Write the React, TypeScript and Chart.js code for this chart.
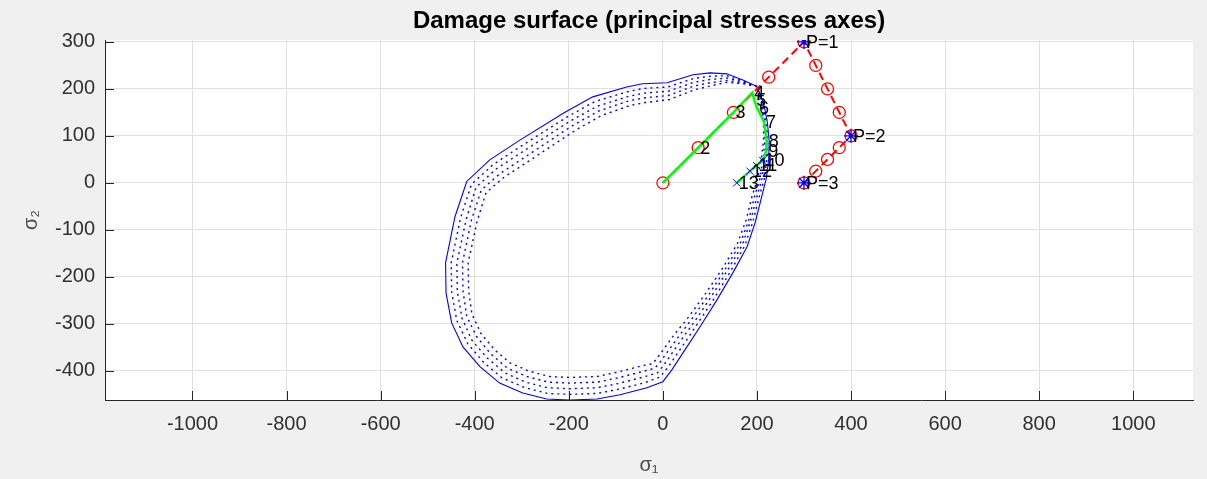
import React, { useEffect, useRef } from 'react';
import { Chart, registerables } from 'chart.js';

Chart.register(...registerables);

const titleText = 'Damage surface (principal stresses axes)';
const xAxisLabel = 'σ₁';
const yAxisLabel = 'σ₂';

const xTicks = [-1000, -800, -600, -400, -200, 0, 200, 400, 600, 800, 1000];
const yTicks = [-400, -300, -200, -100, 0, 100, 200, 300];
const xLimits = [-1186, 1127];
const yLimits = [-462, 304];

// initial damage surface (solid)
const surfaceSolid: number[][] = [
  [200, 205], [170, 219], [136, 232], [100, 234], [64, 230], [9, 213], [-43, 211], [-77, 204],
  [-149, 183], [-210, 149], [-304, 91], [-368, 49], [-417, 3], [-442, -72], [-462, -170],
  [-461, -234], [-449, -298], [-425, -349], [-389, -391], [-347, -426], [-298, -447],
  [-247, -460], [-198, -462], [-140, -460], [-91, -451], [-34, -436], [0, -423], [19, -398],
  [57, -340], [79, -306], [115, -249], [149, -191], [179, -136], [196, -85], [210, -30],
  [220, 10], [225, 50], [226, 90], [222, 130], [214, 170], [200, 205],
];

// evolved damage surfaces (dotted)
const surfaceDotted1: number[][] = [
  [200, 205], [170, 217], [136, 228], [100, 227], [65, 222], [10, 204], [-41, 201], [-75, 194],
  [-145, 173], [-204, 140], [-297, 81], [-361, 39], [-407, -3], [-430, -74], [-450, -170],
  [-449, -233], [-438, -293], [-415, -342], [-381, -382], [-342, -415], [-295, -435],
  [-246, -448], [-198, -450], [-140, -448], [-93, -439], [-38, -425], [-6, -413], [11, -392],
  [50, -335], [72, -302], [109, -246], [144, -188], [174, -134], [191, -84], [205, -29],
  [216, 10], [221, 50], [223, 90], [220, 130], [213, 170], [200, 205],
];
const surfaceDotted2: number[][] = [
  [200, 205], [170, 215], [136, 223], [100, 220], [66, 214], [11, 195], [-40, 191], [-73, 184],
  [-140, 163], [-198, 131], [-291, 71], [-354, 30], [-397, -9], [-418, -77], [-438, -170],
  [-437, -232], [-427, -288], [-406, -335], [-373, -373], [-336, -404], [-292, -424],
  [-245, -436], [-198, -438], [-140, -436], [-95, -427], [-41, -413], [-11, -404], [3, -386],
  [42, -330], [66, -297], [103, -242], [138, -185], [169, -132], [186, -82], [200, -29],
  [211, 10], [217, 50], [220, 90], [218, 129], [212, 170], [200, 205],
];
const surfaceDotted3: number[][] = [
  [200, 205], [170, 213], [136, 218], [100, 213], [66, 206], [12, 186], [-38, 181], [-71, 175],
  [-136, 153], [-192, 122], [-284, 61], [-346, 20], [-386, -15], [-407, -79], [-426, -170],
  [-425, -230], [-417, -284], [-396, -327], [-366, -364], [-331, -394], [-289, -412],
  [-243, -424], [-198, -426], [-140, -424], [-96, -415], [-45, -402], [-17, -394], [-5, -380],
  [35, -325], [59, -293], [97, -239], [133, -183], [164, -130], [182, -81], [195, -28],
  [207, 11], [213, 50], [217, 90], [216, 129], [211, 169], [200, 205],
];
const surfaceDotted4: number[][] = [
  [200, 205], [170, 211], [136, 214], [100, 206], [67, 198], [13, 177], [-37, 171], [-69, 165],
  [-131, 143], [-186, 112], [-278, 51], [-339, 11], [-376, -21], [-395, -82], [-414, -170],
  [-413, -229], [-406, -279], [-387, -320], [-358, -355], [-325, -383], [-286, -400],
  [-242, -412], [-198, -414], [-140, -412], [-98, -403], [-48, -390], [-22, -385], [-13, -374],
  [27, -319], [52, -289], [91, -235], [128, -180], [159, -128], [177, -79], [190, -27],
  [202, 11], [209, 50], [214, 90], [214, 128], [210, 169], [200, 205],
];

// trial stresses (red dashed with circles)
const trialPath: number[][] = [
  [0, 0], [75, 75], [150, 150], [225, 225], [300, 300], [325, 250], [350, 200], [375, 150],
  [400, 100], [375, 75], [350, 50], [325, 25], [300, 0],
];

// actual stress path (green)
const stressPath: number[][] = [
  [0, 0], [75, 75], [150, 150], [190, 192], [194, 177], [200, 160], [215, 130], [221, 88],
  [220, 68], [212, 48], [199, 37], [185, 25], [157, 0],
];
const stressLabels = ['', '2', '3', '4', '5', '6', '7', '8', '9', '10', '11', '12', '13'];

const crossPoints: number[][] = [[212, 48], [199, 37], [185, 25], [157, 0]];

const loadTargets: number[][] = [[300, 300], [400, 100], [300, 0]];
const loadLabels = ['P=1', 'P=2', 'P=3'];

const FONT = "'Liberation Sans', Arial, Helvetica, sans-serif";

const toPts = (arr: number[][]) => arr.map(([x, y]) => ({ x, y }));

const framePlugin = {
  id: 'frame',
  beforeDraw(chart: any) {
    const { ctx, chartArea: a } = chart;
    ctx.save();
    ctx.fillStyle = '#f0f0f0';
    ctx.fillRect(0, 0, chart.width, chart.height);
    ctx.fillStyle = '#ffffff';
    ctx.fillRect(a.left, a.top, a.right - a.left, a.bottom - a.top);
    ctx.restore();
  },
  afterDatasetsDraw(chart: any) {
    const { ctx, scales } = chart;
    const sx = scales.x;
    const sy = scales.y;
    ctx.save();
    ctx.fillStyle = '#000000';
    ctx.font = `18px ${FONT}`;
    ctx.textAlign = 'left';
    ctx.textBaseline = 'middle';
    stressPath.forEach(([x, y], i) => {
      const t = stressLabels[i];
      if (!t) return;
      ctx.fillText(t, sx.getPixelForValue(x) + 2, sy.getPixelForValue(y) + 1);
    });
    loadTargets.forEach(([x, y], i) => {
      ctx.fillText(loadLabels[i], sx.getPixelForValue(x) + 2, sy.getPixelForValue(y) + 1);
    });
    ctx.restore();
  },
  afterDraw(chart: any) {
    const { ctx, chartArea: a, scales } = chart;
    const sx = scales.x;
    const sy = scales.y;
    ctx.save();
    ctx.strokeStyle = '#262626';
    ctx.lineWidth = 1;
    ctx.beginPath();
    for (const v of xTicks) {
      const px = Math.round(sx.getPixelForValue(v)) + 0.5;
      ctx.moveTo(px, a.bottom);
      ctx.lineTo(px, a.bottom - 9);
    }
    for (const v of yTicks) {
      const py = Math.round(sy.getPixelForValue(v)) + 0.5;
      ctx.moveTo(a.left, py);
      ctx.lineTo(a.left + 9, py);
    }
    ctx.stroke();

    // title
    ctx.fillStyle = '#000000';
    ctx.font = `bold 24px ${FONT}`;
    ctx.textAlign = 'center';
    ctx.textBaseline = 'middle';
    ctx.fillText(titleText, (a.left + a.right) / 2, 21);

    // axis labels
    ctx.fillStyle = '#4d4d4d';
    ctx.font = `20px ${FONT}`;
    ctx.fillText(xAxisLabel, (a.left + a.right) / 2, 465);
    ctx.translate(31, (a.top + a.bottom) / 2);
    ctx.rotate(-Math.PI / 2);
    ctx.fillText(yAxisLabel, 0, 0);
    ctx.restore();
  },
};

export default function App() {
  const ref = useRef<HTMLCanvasElement>(null);
  useEffect(() => {
    document.body.style.margin = '0';
    const canvas = ref.current as HTMLCanvasElement;
    const surfaceDs = (data: number[][], dotted: boolean, order: number) => ({
      data: toPts(data),
      showLine: true,
      fill: false,
      borderColor: '#0000ff',
      borderWidth: dotted ? 1.4 : 1.1,
      borderDash: dotted ? [2, 4] : [],
      pointRadius: 0,
      tension: 0,
      order,
    });
    const chart = new Chart(canvas, {
      type: 'scatter',
      data: {
        datasets: [
          {
            data: toPts(loadTargets),
            showLine: false,
            pointStyle: 'star',
            pointRadius: 7,
            pointBorderColor: '#0000ff',
            pointBackgroundColor: '#0000ff',
            pointBorderWidth: 1.3,
            order: 0,
          },
          {
            data: toPts(crossPoints),
            showLine: false,
            pointStyle: 'crossRot',
            pointRadius: 5,
            pointBorderColor: '#0000ff',
            pointBorderWidth: 1,
            order: 1,
          },
          {
            data: toPts(stressPath),
            showLine: true,
            fill: false,
            borderColor: '#00ff00',
            borderWidth: 2.5,
            pointRadius: 0,
            order: 2,
          },
          {
            data: toPts(trialPath),
            showLine: true,
            fill: false,
            borderColor: '#ff0000',
            borderWidth: 2,
            borderDash: [8, 5],
            pointStyle: 'circle',
            pointRadius: 6,
            pointBorderColor: '#ff0000',
            pointBackgroundColor: 'rgba(0,0,0,0)',
            pointBorderWidth: 1.3,
            order: 3,
          },
          surfaceDs(surfaceSolid, false, 4),
          surfaceDs(surfaceDotted1, true, 5),
          surfaceDs(surfaceDotted2, true, 6),
          surfaceDs(surfaceDotted3, true, 7),
          surfaceDs(surfaceDotted4, true, 8),
        ],
      } as any,
      options: {
        responsive: false,
        animation: false,
        devicePixelRatio: 1,
        events: [],
        layout: { padding: { top: 40, right: 14, left: 0, bottom: 0 } },
        plugins: {
          legend: { display: false },
          tooltip: { enabled: false },
          title: { display: false },
        },
        scales: {
          x: {
            type: 'linear',
            min: xLimits[0],
            max: xLimits[1],
            afterFit: (s: any) => { s.height = 79; },
            afterBuildTicks: (s: any) => { s.ticks = xTicks.map((v) => ({ value: v })); },
            grid: { color: '#e0e0e0', drawTicks: false, lineWidth: 1 },
            border: { display: true, color: '#262626', width: 1 },
            ticks: {
              color: '#303030',
              font: { family: FONT, size: 20 },
              padding: 12,
              maxRotation: 0,
              autoSkip: false,
              callback: (v: any) => String(v),
            },
          },
          y: {
            type: 'linear',
            min: yLimits[0],
            max: yLimits[1],
            afterFit: (s: any) => { s.width = 105; },
            afterBuildTicks: (s: any) => { s.ticks = yTicks.map((v) => ({ value: v })); },
            grid: { color: '#e0e0e0', drawTicks: false, lineWidth: 1 },
            border: { display: true, color: '#262626', width: 1 },
            ticks: {
              color: '#303030',
              font: { family: FONT, size: 20 },
              padding: 10,
              autoSkip: false,
              callback: (v: any) => String(v),
            },
          },
        },
      } as any,
      plugins: [framePlugin],
    });
    return () => chart.destroy();
  }, []);
  return (
    <div style={{ width: 1207, height: 479 }}>
      <canvas ref={ref} width={1207} height={479} />
    </div>
  );
}
